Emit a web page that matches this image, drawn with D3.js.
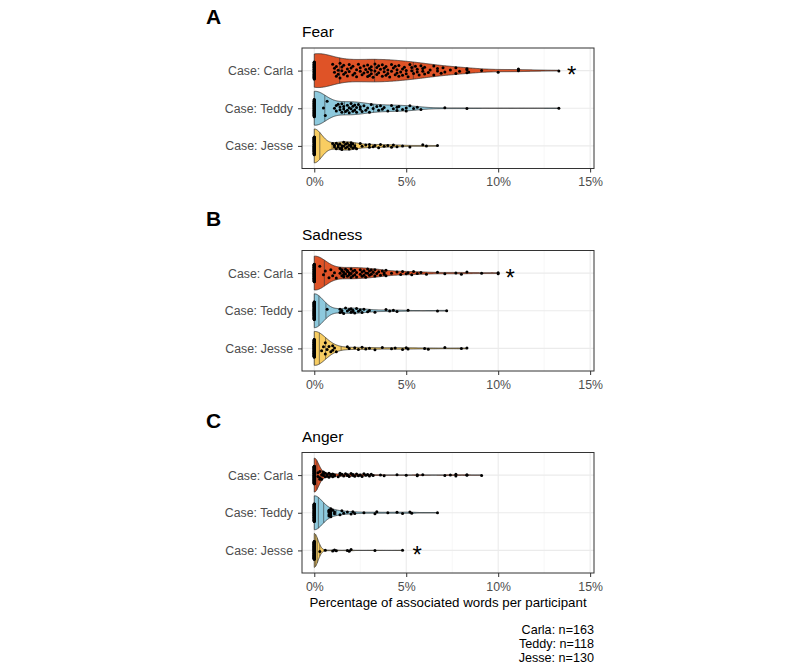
<!DOCTYPE html>
<html><head><meta charset="utf-8">
<script src="https://cdn.jsdelivr.net/npm/d3@7"></script>
<style>
body{margin:0;background:#fff;}
svg{display:block;font-family:"Liberation Sans",Arial,Helvetica,sans-serif;}
</style>
</head><body>
<svg id="chart" width="800" height="666"></svg>
<script>
// ---------------- data ----------------
const cases = ["Case: Carla", "Case: Teddy", "Case: Jesse"];
const emotions = ["Fear", "Sadness", "Anger"];
const panelLetters = ["A", "B", "C"];
const xTickValues = [0, 5, 10, 15];
const xMinorValues = [2.5, 7.5, 12.5];
const caseColors = ["#DF5327", "#8DC9DD", "#F8CD62"];
const sampleSizeLabels = ["Carla: n=163", "Teddy: n=118", "Jesse: n=130"];
const xAxisTitle = "Percentage of associated words per participant";
const starEmotions = ["Fear", "Sadness", "Anger"];
const starCases = ["Case: Carla", "Case: Carla", "Case: Jesse"];
const starValues = [14.0, 10.65, 5.6];
const quantileLevels = [0.25, 0.5, 0.75];

// percentage of associated words per participant
const fearCarla = [
 0,0,0,0,0,0,0,0,0,0, 0,0,0,0,0,0,0,0,0,0,
 0,0,0,0,0,0,0,0,0,0, 0,0,0,0,0,0,0,0,0,0,
 0,0,0,0,0,0,0,0,0,0, 0,0,0,0,0,
 1.0,1.1,1.1,1.2,1.2,1.3,1.3,1.4,1.4,1.5,1.5,1.6,1.6,1.7,1.8,1.8,1.9,1.9,
 2.0,2.1,2.1,2.2,2.3,2.3,2.4,2.5,2.5,2.6,2.7,2.7,2.8,2.9,2.9,2.9,3.0,
 3.0,3.1,3.1,3.1,3.2,3.3,3.3,3.4,3.4,3.5,3.5,3.6,3.7,3.7,3.8,3.8,3.9,3.9,4.0,4.0,
 4.1,4.2,4.2,4.3,4.4,4.4,4.5,4.5,4.6,4.6,4.7,4.8,4.8,4.9,5.0,
 5.0,5.1,5.2,5.3,5.3,5.4,5.5,5.6,5.6,5.7,5.8,5.9,5.9,6.0,6.0,
 6.2,6.3,6.5,6.5,6.7,6.7,6.9,7.0,
 7.1,7.4,7.7,7.7,7.9,
 8.3,8.3,8.3,8.4,
 9.1,10.0,11.1,11.1,11.1,13.3
];
const fearTeddy = [
 0,0,0,0,0,0,0,0,0,0, 0,0,0,0,0,0,0,0,0,0,
 0,0,0,0,0,0,0,0,0,0, 0,0,0,0,0,0,0,0,0,0,
 0,0,0,0,0,0,0,0,0,0, 0,0,0,0,0,0,0,0,0,0,
 0,
 0.5,0.6,0.7,
 1.1,1.2,1.2,1.3,1.4,1.4,1.5,1.5,1.6,1.6,1.7,1.8,1.8,1.9,1.9,2.0,2.0,2.1,2.1,2.2,2.2,
 2.3,2.3,2.4,2.5,2.5,2.6,2.7,2.8,2.9,3.0,3.1,3.2,
 3.4,3.5,3.6,3.7,3.8,4.0,4.2,4.3,4.5,4.5,4.6,4.8,5.0,5.0,5.2,5.4,5.6,5.8,
 7.1,8.3,13.3
];
const fearJesse = [
 0,0,0,0,0,0,0,0,0,0, 0,0,0,0,0,0,0,0,0,0,
 0,0,0,0,0,0,0,0,0,0, 0,0,0,0,0,0,0,0,0,0,
 0,0,0,0,0,0,0,0,0,0, 0,0,0,0,0,0,0,0,0,0,
 0,0,0,0,0,0,0,0,0,0, 0,0,0,0,0,0,0,0,0,0,
 0,0,0,
 1.0,1.1,1.1,1.2,1.2,1.3,1.3,1.4,1.4,1.5,1.5,1.5,1.6,1.6,1.7,1.7,1.8,1.8,1.9,1.9,
 2.0,2.0,2.0,2.1,2.1,2.2,2.2,2.3,
 2.5,2.6,2.8,3.0,3.0,3.2,3.3,3.5,3.6,3.8,4.0,4.2,4.3,4.5,4.8,5.2,5.9,6.1,6.7
];
const sadnessCarla = [
 0,0,0,0,0,0,0,0,0,0, 0,0,0,0,0,0,0,0,0,0,
 0,0,0,0,0,0,0,0,0,0, 0,0,0,0,0,0,0,0,0,0,
 0,0,0,0,0,0,0,0,0,0, 0,0,0,0,0,0,0,0,0,0,
 0,0,0,0,0,0,0,0,0,0, 0,0,0,0,0,0,0,0,0,0,
 0,0,0,0,0,0,0,
 0.3,0.5,0.6,0.8,0.9,1.0,1.1,1.2,
 1.4,1.4,1.5,1.5,1.5,1.6,1.6,1.6,1.7,1.7,1.8,1.8,1.8,1.9,1.9,2.0,2.0,2.0,2.1,2.1,2.2,2.2,2.3,2.3,
 2.5,2.5,2.6,2.6,2.7,2.7,2.8,2.8,2.9,2.9,3.0,3.0,3.1,3.1,3.2,3.3,3.3,3.4,3.5,3.6,3.7,3.8,3.8,3.9,3.9,
 4.2,4.5,4.7,4.8,5.0,5.1,5.3,5.4,5.6,5.8,6.1,6.7,7.1,7.7,8.0,8.3,9.1,10.0,10.0
];
const sadnessTeddy = [
 0,0,0,0,0,0,0,0,0,0, 0,0,0,0,0,0,0,0,0,0,
 0,0,0,0,0,0,0,0,0,0, 0,0,0,0,0,0,0,0,0,0,
 0,0,0,0,0,0,0,0,0,0, 0,0,0,0,0,0,0,0,0,0,
 0,0,0,0,0,0,0,0,0,0, 0,0,0,0,0,0,0,0,0,0,
 0,0,0,0,0,0,0,0,0,
 0.7,
 1.4,1.4,1.5,1.5,1.6,1.7,1.8,1.9,2.0,2.0,2.1,2.1,2.2,2.3,2.4,2.5,2.6,2.7,2.9,3.0,
 3.3,3.9,4.1,4.3,4.5,5.1,6.7,7.2
];
const sadnessJesse = [
 0,0,0,0,0,0,0,0,0,0, 0,0,0,0,0,0,0,0,0,0,
 0,0,0,0,0,0,0,0,0,0, 0,0,0,0,0,0,0,0,0,0,
 0,0,0,0,0,0,0,0,0,0, 0,0,0,0,0,0,0,0,0,0,
 0,0,0,0,0,0,0,0,0,0, 0,0,0,0,0,0,0,0,0,0,
 0,0,0,0,0,0,0,0,0,0, 0,0,0,0,0,0,0,0,0,0,
 0.4,0.5,0.6,0.6,0.7,0.8,0.9,1.0,1.0,1.1,1.2,
 1.8,1.9,2.2,2.4,2.6,2.8,3.0,3.3,3.7,4.2,4.4,4.8,5.0,5.1,6.0,6.2,7.1,8.0,8.3
];
const angerCarla = [
 0,0,0,0,0,0,0,0,0,0, 0,0,0,0,0,0,0,0,0,0,
 0,0,0,0,0,0,0,0,0,0, 0,0,0,0,0,0,0,0,0,0,
 0,0,0,0,0,0,0,0,0,0, 0,0,0,0,0,0,0,0,0,0,
 0,0,0,0,0,0,0,0,0,0, 0,0,0,0,0,0,0,0,0,0,
 0,0,0,0,0,0,0,0,0,0, 0,0,0,0,0,0,0,0,0,0,
 0,0,0,0,
 0.2,0.2,0.3,0.3,0.3,0.4,0.4,0.5,0.5,0.5,0.6,0.6,0.7,0.7,0.8,0.8,0.9,0.9,1.0,1.0,1.1,1.1,
 1.3,1.4,1.4,1.5,1.6,1.7,1.8,1.8,1.9,2.0,2.1,2.1,2.2,2.3,2.4,2.5,2.6,2.7,2.8,2.9,3.0,3.1,3.2,
 3.6,3.8,4.5,5.0,5.6,5.6,5.9,7.1,7.4,7.7,7.7,8.3,8.3,9.1
];
const angerTeddy = [
 0,0,0,0,0,0,0,0,0,0, 0,0,0,0,0,0,0,0,0,0,
 0,0,0,0,0,0,0,0,0,0, 0,0,0,0,0,0,0,0,0,0,
 0,0,0,0,0,0,0,0,0,0, 0,0,0,0,0,0,0,0,0,0,
 0,0,0,0,0,0,0,0,0,0, 0,0,0,0,0,0,0,0,0,0,
 0,0,0,0,0,0,0,0,0,
 0.8,0.8,0.8,0.8,0.8,0.9,0.9,0.9,0.9,0.9,1.0,1.1,1.1,
 1.4,1.5,1.6,1.8,2.0,2.1,2.2,
 2.7,3.3,3.4,4.0,4.5,4.8,5.2,5.3,6.7
];
const angerJesse = [
 0,0,0,0,0,0,0,0,0,0, 0,0,0,0,0,0,0,0,0,0,
 0,0,0,0,0,0,0,0,0,0, 0,0,0,0,0,0,0,0,0,0,
 0,0,0,0,0,0,0,0,0,0, 0,0,0,0,0,0,0,0,0,0,
 0,0,0,0,0,0,0,0,0,0, 0,0,0,0,0,0,0,0,0,0,
 0,0,0,0,0,0,0,0,0,0, 0,0,0,0,0,0,0,0,0,0,
 0,0,0,0,0,0,0,0,0,0, 0,0,0,0,0,0,0,0,0,0,
 0.3,0.6,1.0,1.1,1.2,1.8,1.9,2.0,3.3,4.8
];
const seriesByEmotion = {
  Fear: [fearCarla, fearTeddy, fearJesse],
  Sadness: [sadnessCarla, sadnessTeddy, sadnessJesse],
  Anger: [angerCarla, angerTeddy, angerJesse]
};

// ---------------- layout ----------------
const FONT = '"Liberation Sans", Arial, Helvetica, sans-serif';
const panelLeft = 302, panelRight = 594;
const panelTops = [48, 250.5, 452.5];
const panelH = 120.5;
const violinHalfFrac = 0.45;   // ggplot width 0.9
const pointMaxOffset = 9;
const pointRadius = 1.5;

const svg = d3.select("#chart");
svg.append("rect").attr("width", 800).attr("height", 666).attr("fill", "#fff");

const x = d3.scaleLinear().domain([-0.667, 15.21]).range([panelLeft, panelRight]);

function bwNrd0(v) {
  const s = v.slice().sort(d3.ascending);
  const sd = d3.deviation(s);
  const iqr = d3.quantileSorted(s, 0.75) - d3.quantileSorted(s, 0.25);
  let lo = Math.min(sd, iqr / 1.34);
  if (!lo) lo = sd || Math.abs(s[0]) || 1;
  return 0.9 * lo * Math.pow(s.length, -0.2);
}
function densityAt(v, bw, g) {
  let s = 0;
  for (const xi of v) { const z = (g - xi) / bw; s += Math.exp(-0.5 * z * z); }
  return s / (v.length * bw * Math.sqrt(2 * Math.PI));
}
function kde(v) {
  const bw = bwNrd0(v);
  const lo = d3.min(v), hi = d3.max(v), N = 512;
  const pts = d3.range(N).map(i => {
    const g = lo + (hi - lo) * i / (N - 1);
    return { v: g, d: densityAt(v, bw, g) };
  });
  const maxD = d3.max(pts, p => p.d);
  pts.forEach(p => p.s = p.d / maxD);
  return { pts, bw, maxD };
}
function vdc(i) { let r = 0, f = 0.5; while (i > 0) { r += f * (i & 1); i >>= 1; f /= 2; } return r; }

emotions.forEach((emo, ei) => {
  const top = panelTops[ei], bottom = top + panelH;
  const y = d3.scalePoint().domain(cases).range([top, bottom]).padding(0.6);
  const halfW = violinHalfFrac * y.step();
  const g = svg.append("g");

  // panel background & grid
  g.append("rect").attr("x", panelLeft).attr("y", top).attr("width", panelRight - panelLeft)
    .attr("height", panelH).attr("fill", "#fff");
  g.selectAll(".minor").data(xMinorValues).join("line")
    .attr("x1", d => x(d)).attr("x2", d => x(d)).attr("y1", top).attr("y2", bottom)
    .attr("stroke", "#F2F2F2").attr("stroke-width", 0.6);
  g.selectAll(".major").data(xTickValues).join("line")
    .attr("x1", d => x(d)).attr("x2", d => x(d)).attr("y1", top).attr("y2", bottom)
    .attr("stroke", "#EBEBEB").attr("stroke-width", 1.1);
  g.selectAll(".hmajor").data(cases).join("line")
    .attr("x1", panelLeft).attr("x2", panelRight).attr("y1", d => y(d)).attr("y2", d => y(d))
    .attr("stroke", "#EBEBEB").attr("stroke-width", 1.1);

  const series = seriesByEmotion[emo];
  series.forEach((vals, ci) => {
    const cy = y(cases[ci]);
    const k = kde(vals);
    const area = d3.area()
      .x(p => x(p.v))
      .y0(p => cy - p.s * halfW)
      .y1(p => cy + p.s * halfW);
    g.append("path").datum(k.pts).attr("d", area)
      .attr("fill", caseColors[ci]).attr("stroke", "#222").attr("stroke-width", 0.7)
      .attr("stroke-linejoin", "round");

    // density-based quantile lines (as ggplot draw_quantiles)
    const tot = d3.sum(k.pts, p => p.d);
    let acc = 0;
    const cdf = k.pts.map(p => (acc += p.d) / tot);
    quantileLevels.forEach(q => {
      const j = d3.bisectLeft(cdf, q);
      const p = k.pts[Math.min(j, k.pts.length - 1)];
      g.append("line").attr("x1", x(p.v)).attr("x2", x(p.v))
        .attr("y1", cy - p.s * halfW).attr("y2", cy + p.s * halfW)
        .attr("stroke", "#333").attr("stroke-width", 0.6);
    });

    // quasirandom points
    const sorted = vals.slice().sort(d3.ascending);
    const pts = sorted.map((v, i) => {
      const sc = densityAt(vals, k.bw, v) / k.maxD;
      const off = (vdc(i + 1) - 0.5) * 2 * pointMaxOffset * Math.pow(Math.min(1, sc), 0.6);
      return { v, off };
    });
    g.selectAll(null).data(pts).join("circle")
      .attr("cx", d => x(d.v)).attr("cy", d => cy + d.off).attr("r", pointRadius)
      .attr("fill", "#000");
  });

  // border
  g.append("rect").attr("x", panelLeft).attr("y", top).attr("width", panelRight - panelLeft)
    .attr("height", panelH).attr("fill", "none").attr("stroke", "#333").attr("stroke-width", 1);

  // axes
  const gx = g.append("g").attr("transform", `translate(0,${bottom})`)
    .call(d3.axisBottom(x).tickValues(xTickValues).tickFormat(d => d + "%").tickSize(4).tickPadding(5));
  gx.select(".domain").remove();
  gx.attr("font-family", FONT).attr("font-size", 12.3);
  gx.selectAll("line").attr("stroke", "#333");
  gx.selectAll("text").attr("fill", "#4D4D4D");

  const gy = g.append("g").attr("transform", `translate(${panelLeft},0)`)
    .call(d3.axisLeft(y).tickSize(4).tickPadding(5));
  gy.select(".domain").remove();
  gy.attr("font-family", FONT).attr("font-size", 12.3);
  gy.selectAll("line").attr("stroke", "#333");
  gy.selectAll("text").attr("fill", "#4D4D4D");

  // title & letter
  g.append("text").attr("x", panelLeft).attr("y", top - 11).text(emo)
    .attr("font-family", FONT).attr("font-size", 15.5).attr("fill", "#000");
  g.append("text").attr("x", 206).attr("y", top - 24.5).text(panelLetters[ei])
    .attr("font-family", FONT).attr("font-size", 21).attr("font-weight", "bold").attr("fill", "#000");

  // significance stars
  starEmotions.forEach((se, si) => {
    if (se !== emo) return;
    g.append("text").attr("x", x(starValues[si])).attr("y", y(starCases[si]) + 12.5)
      .attr("text-anchor", "middle").text("*")
      .attr("font-family", FONT).attr("font-size", 24).attr("fill", "#000");
  });
});

// x axis title
svg.append("text").attr("x", (panelLeft + panelRight) / 2).attr("y", 606.5)
  .attr("text-anchor", "middle").text(xAxisTitle)
  .attr("font-family", FONT).attr("font-size", 13.3).attr("fill", "#000");

// sample sizes
svg.selectAll(".nlab").data(sampleSizeLabels).join("text")
  .attr("x", 594).attr("y", (d, i) => 634 + i * 14.2)
  .attr("text-anchor", "end").text(d => d)
  .attr("font-family", FONT).attr("font-size", 12.6).attr("fill", "#000");
</script>
</body></html>
